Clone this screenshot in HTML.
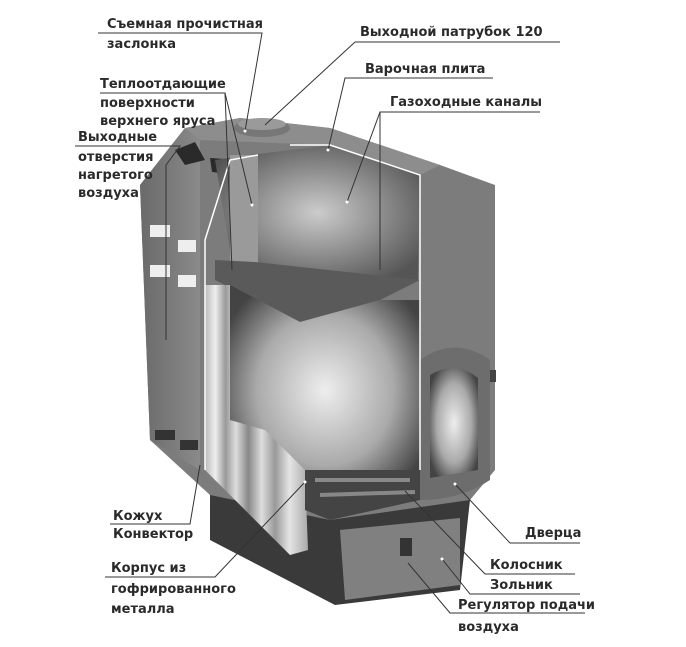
<!DOCTYPE html>
<html><head><meta charset="utf-8"><style>
html,body{margin:0;padding:0;background:#fff}
svg{display:block}
text{font-family:"DejaVu Sans","Liberation Sans",sans-serif;font-size:13px;font-weight:bold;fill:#2a2a2a}
</style></head><body>
<svg width="686" height="647" viewBox="0 0 686 647" xmlns="http://www.w3.org/2000/svg">
<defs>
<linearGradient id="side" x1="0" x2="1"><stop offset="0" stop-color="#6a6a6a"/><stop offset="1" stop-color="#8a8a8a"/></linearGradient>
<linearGradient id="corr" x1="0" x2="1">
<stop offset="0" stop-color="#bbb"/><stop offset=".1" stop-color="#eee"/><stop offset=".2" stop-color="#999"/><stop offset=".3" stop-color="#ddd"/><stop offset=".42" stop-color="#888"/><stop offset=".55" stop-color="#ddd"/><stop offset=".68" stop-color="#999"/><stop offset=".82" stop-color="#e5e5e5"/><stop offset="1" stop-color="#aaa"/></linearGradient>
<radialGradient id="fire" cx=".5" cy=".5" r=".6"><stop offset="0" stop-color="#eee"/><stop offset=".6" stop-color="#aaa"/><stop offset="1" stop-color="#444"/></radialGradient>
<radialGradient id="smoke" cx=".5" cy=".5" r=".6"><stop offset="0" stop-color="#ccc"/><stop offset="1" stop-color="#555"/></radialGradient>
</defs>
<polygon points="210,480 470,500 460,590 335,605 210,540" fill="#3a3a3a"/>
<polygon points="140,185 185,128 240,118 330,128 440,165 495,185 495,470 470,500 330,520 210,495 150,440" fill="#7c7c7c"/>
<polygon points="140,185 185,128 200,140 200,470 150,440" fill="url(#side)"/>
<polygon points="185,128 240,118 330,128 440,165 420,175 330,145 200,140" fill="#8d8d8d"/>
<polygon points="175,150 195,142 205,160 185,165" fill="#2a2a2a"/>
<polygon points="210,158 240,160 238,175 212,172" fill="#2a2a2a"/>
<rect x="150" y="225" width="20" height="12" fill="#eee"/><rect x="178" y="240" width="18" height="12" fill="#eee"/>
<rect x="150" y="265" width="20" height="12" fill="#eee"/><rect x="178" y="275" width="18" height="12" fill="#eee"/>
<rect x="155" y="430" width="20" height="10" fill="#333"/><rect x="180" y="440" width="18" height="10" fill="#333"/>
<polygon points="215,160 250,155 330,145 420,175 418,280 255,270 230,250" fill="url(#smoke)"/>
<polygon points="230,155 258,155 258,270 230,265" fill="#9a9a9a"/>
<polygon points="215,260 255,262 420,280 380,300 300,322 215,280" fill="#5a5a5a"/>
<polygon points="230,285 300,322 380,300 420,300 420,470 320,495 230,460" fill="url(#fire)"/>
<polygon points="205,285 230,285 230,420 265,430 305,470 308,550 290,555 255,520 205,470" fill="url(#corr)"/>
<polygon points="305,470 420,470 420,500 330,520 305,510" fill="#444"/>
<line x1="315" y1="480" x2="410" y2="480" stroke="#888" stroke-width="4"/><line x1="320" y1="495" x2="415" y2="492" stroke="#888" stroke-width="4"/>
<path d="M420,360 Q455,335 490,360 L490,480 Q460,500 420,500 Z" fill="#6d6d6d"/>
<path d="M430,375 Q455,360 478,378 L478,470 L430,478 Z" fill="url(#fire)"/>
<rect x="490" y="370" width="6" height="12" fill="#444"/>
<polygon points="340,530 460,518 460,585 345,600" fill="#808080"/>
<rect x="400" y="538" width="12" height="18" fill="#333"/>
<ellipse cx="262" cy="128" rx="28" ry="9" fill="#777"/>
<ellipse cx="262" cy="124" rx="24" ry="6" fill="#9a9a9a"/>
<polyline points="205,470 205,240 230,160 258,155" fill="none" stroke="#fff" stroke-width="1.5"/>
<polyline points="290,145 330,145 420,175 420,470" fill="none" stroke="#fff" stroke-width="1.5"/>
<g stroke="#333" stroke-width="1" fill="none">
<polyline points="98,33 262,33 245,131"/>
<polyline points="560,42 355,42 265,125"/>
<polyline points="493,78 345,78 328,150"/>
<polyline points="540,112 380,112 347,202"/>
<line x1="380" y1="112" x2="380" y2="270"/>
<polyline points="100,93 225,93 252,205"/>
<line x1="225" y1="93" x2="232" y2="270"/>
<polyline points="75,146 180,146 166,165 166,340"/>
<polyline points="110,524 190,524 200,465"/>
<polyline points="105,577 215,577 305,482"/>
<polyline points="580,543 510,543 455,484"/>
<polyline points="575,574 485,574 405,491"/>
<polyline points="580,594 470,594 442,559"/>
<polyline points="585,613 450,613 408,563"/>
</g>
<g fill="#fff"><circle cx="245" cy="131" r="1.5"/><circle cx="328" cy="150" r="1.5"/><circle cx="347" cy="202" r="1.5"/><circle cx="252" cy="205" r="1.5"/><circle cx="305" cy="482" r="1.5"/><circle cx="455" cy="484" r="1.5"/><circle cx="442" cy="559" r="1.5"/></g>
<text x="107" y="28">Съемная прочистная</text>
<text x="107" y="48">заслонка</text>
<text x="360" y="36">Выходной патрубок 120</text>
<text x="365" y="73">Варочная плита</text>
<text x="390" y="106">Газоходные каналы</text>
<text x="100" y="88">Теплоотдающие</text>
<text x="100" y="107">поверхности</text>
<text x="100" y="125">верхнего яруса</text>
<text x="78" y="141">Выходные</text>
<text x="78" y="161">отверстия</text>
<text x="78" y="179">нагретого</text>
<text x="78" y="197">воздуха</text>
<text x="113" y="520">Кожух</text>
<text x="113" y="538">Конвектор</text>
<text x="111" y="572">Корпус из</text>
<text x="111" y="593">гофрированного</text>
<text x="111" y="613">металла</text>
<text x="525" y="537">Дверца</text>
<text x="490" y="569">Колосник</text>
<text x="490" y="589">Зольник</text>
<text x="458" y="609">Регулятор подачи</text>
<text x="458" y="631">воздуха</text>
</svg>
</body></html>
